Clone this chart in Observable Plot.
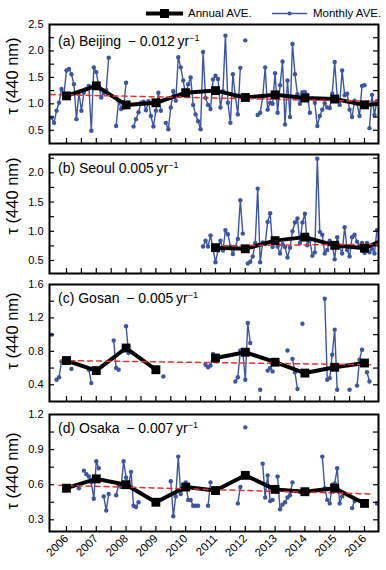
<!DOCTYPE html>
<html><head><meta charset="utf-8">
<script src="https://cdn.jsdelivr.net/npm/d3@7"></script>
<script src="https://cdn.jsdelivr.net/npm/@observablehq/plot@0.6"></script>
<style>
body{margin:0;background:#fff;}
#wrap{position:relative;width:386px;height:570px;font-family:"Liberation Sans",Arial,sans-serif;color:#000;overflow:hidden;}
.panel{position:absolute;left:0;}
.lab{position:absolute;left:58px;font-size:14px;white-space:nowrap;line-height:1;}
.lab sup{font-size:9px;vertical-align:5px;line-height:0;}
.ylab{position:absolute;left:12px;font-size:16.5px;white-space:nowrap;transform:translate(-50%,-50%) rotate(-90deg);line-height:1;}
.leg{position:absolute;font-size:11.5px;white-space:nowrap;line-height:1;}
</style></head><body><div id="wrap"></div>
<script>
// ---------- data ----------
const monthStart = 2005.5; // first monthly slot = Jul 2005, one slot per month
const beijingMonthly = [
  /*2005*/ 0.74, 0.64, 0.87, 1.02, 1.28, 1.19,
  /*2006*/ 1.63, 1.66, 1.56, 1.37, 0.71, 1.21, 0.87, 1.21, 1.28, 1.34, 0.49, 1.69,
  /*2007*/ 1.60, 1.34, 1.12, 1.21, 1.26, 1.87, null, null, 0.58, 1.06, 0.90, 0.93,
  /*2008*/ 1.40, null, null, 0.57, 0.71, 0.84, 1.02, 1.04, 0.88, 1.05, 0.77, 0.57,
  /*2009*/ 0.87, 1.21, 0.87, null, 0.64, 0.52, 0.93, 1.24, 1.06, 1.88, 1.69, 1.44,
  /*2010*/ 1.15, 1.37, 1.50, 0.98, 0.80, 0.67, 0.52, 1.98, 1.11, 0.98, 0.90, 1.46,
  /*2011*/ 1.53, 1.47, 0.93, 1.24, 2.29, 1.02, 0.64, 1.56, 1.14, 0.80, 1.68, null,
  /*2012*/ 2.20, null, null, null, null, 0.79, 0.83, 1.12, 1.69, 0.89, 1.02, 1.00,
  /*2013*/ 1.58, 0.83, 1.35, 1.80, 0.61, 1.44, 0.75, 2.13, 1.56, 1.18, 1.00, 1.22,
  /*2014*/ 1.22, 1.17, 0.83, null, 1.02, 0.58, 0.77, 0.89, 1.01, 0.93, 0.92, 1.19,
  /*2015*/ 1.79, 1.14, 0.98, 1.63, 1.16, 1.19, 0.89, 0.75, 1.06, 1.00, 0.77, 1.34,
  /*2016*/ 1.35, null, 0.54, 1.17, 0.79, 1.05
];
const seoulMonthly = [
  /*2005*/ null, null, null, null, null, null,
  /*2006*/ null, null, null, null, null, null, null, null, null, null, null, null,
  /*2007*/ null, null, null, null, null, null, null, null, null, null, null, null,
  /*2008*/ null, null, null, null, null, null, null, null, null, null, null, null,
  /*2009*/ null, null, null, null, null, null, null, null, null, null, null, null,
  /*2010*/ null, null, null, null, null, null, null, 0.74, 0.84, 0.74, 0.93, 0.70,
  /*2011*/ 0.47, 0.67, 0.84, 0.67, 1.02, 0.95, 0.74, 0.61, 0.73, 0.87, 1.53, 0.96,
  /*2012*/ null, 0.45, 0.48, 0.57, 0.80, 1.73, 0.47, 0.81, 0.78, 1.16, 1.31, 0.73,
  /*2013*/ 0.84, 0.74, 0.62, 0.78, 0.73, 0.55, 0.72, 1.00, 1.15, 1.22, 0.80, 1.15,
  /*2014*/ 1.30, 0.76, 0.85, 0.58, 0.64, 2.24, 0.99, 0.94, 0.62, 0.68, 0.84, 0.78,
  /*2015*/ 0.52, 0.90, 0.72, 0.62, 1.07, 0.68, 0.57, 0.90, 0.94, 0.82, 0.75, 0.80,
  /*2016*/ 0.63, 0.80, 0.64, 0.70, 0.62, 1.02
];
const gosanMonthly = [
  /*2005*/ 1.00, null, 0.46, 0.49, 0.68, 0.69,
  /*2006*/ null, null, 0.59, null, null, null, null, null, null, 0.58, 0.42, null,
  /*2007*/ null, null, null, null, null, null, null, 0.93, 0.60, 0.58, null, null,
  /*2008*/ 1.10, 0.78, null, null, null, null, null, null, null, null, null, null,
  /*2009*/ null, null, null, 0.50, null, null, null, null, null, null, null, null,
  /*2010*/ null, null, null, null, null, null, null, null, 0.64, 0.61, 0.63, 0.77,
  /*2011*/ null, null, null, null, null, null, null, null, 0.44, 0.49, 0.81, 0.80,
  /*2012*/ 0.46, 1.14, 0.90, null, null, null, 0.34, null, null, 0.57, 0.60, 0.56,
  /*2013*/ null, null, null, null, null, 0.81, null, 0.71, 0.55, 0.35, null, 1.13,
  /*2014*/ null, null, null, null, null, null, null, null, 1.43, 0.46, 0.48, 0.76,
  /*2015*/ 1.06, 0.34, null, null, null, null, 0.34, null, null, 0.39, 0.70, 0.82,
  /*2016*/ null, 0.55, 0.44, null, null, null
];
const osakaMonthly = [
  /*2005*/ null, null, null, null, null, null,
  /*2006*/ null, null, null, null, null, 0.57, null, 0.72, 0.69, 0.67, 0.62, 0.48,
  /*2007*/ 0.80, 0.74, null, 0.50, 0.38, 0.52, null, null, 0.51, 0.60, 0.58, 0.80,
  /*2008*/ 0.66, 0.60, 0.71, 0.42, 0.41, 0.45, null, null, null, null, null, null,
  /*2009*/ null, null, null, null, null, null, 0.63, 0.33, 0.50, 0.84, 0.52, 0.57,
  /*2010*/ 0.62, 0.47, 0.47, 0.42, 0.42, 0.42, null, null, null, 0.42, 0.62, null,
  /*2011*/ null, null, null, null, null, null, null, null, null, 0.44, 0.58, null,
  /*2012*/ 1.09, null, null, null, null, null, null, 0.78, 0.49, 0.68, 0.46, 0.47,
  /*2013*/ null, 0.67, 0.39, 0.43, 0.45, 0.49, 0.51, 0.62, null, null, 0.54, 0.53,
  /*2014*/ null, null, null, null, null, null, null, 0.84, 0.57, 0.47, 0.44, 0.60,
  /*2015*/ 0.61, 0.74, 0.44, 0.50, null, null, null, 0.40, 0.46, null, null, null,
  /*2016*/ null, null, null, null, null, 0.44
];
const annualYears = [2006, 2007, 2008, 2009, 2010, 2011, 2012, 2013, 2014, 2015, 2016, 2017];
const beijingAnnual = [1.15, 1.34, 0.98, 1.02, 1.21, 1.25, 1.12, 1.17, 1.11, 1.09, 0.98, 1.02];
const seoulAnnual   = [null, null, null, null, null, 0.72, 0.70, 0.84, 0.90, 0.76, 0.71, 0.94];
const gosanAnnual   = [0.69, 0.57, 0.84, 0.58, null, 0.72, 0.79, 0.67, 0.54, 0.61, 0.66, null];
const osakaAnnual   = [0.57, 0.65, 0.60, 0.45, 0.58, 0.55, 0.68, 0.56, 0.54, 0.57, 0.44, null];
// linear trends: [start year, end year] and [start value, end value]
const beijingTrendX = [2005.45, 2016.45], beijingTrend = [1.175, 1.045];
const seoulTrendX   = [2010.95, 2016.45], seoulTrend   = [0.75, 0.78];
const gosanTrendX   = [2005.8, 2016.2],  gosanTrend   = [0.69, 0.64];
const osakaTrendX   = [2005.75, 2016.3], osakaTrend   = [0.595, 0.52];
const xYearTicks = [2006, 2007, 2008, 2009, 2010, 2011, 2012, 2013, 2014, 2015, 2016];
const xMinorTicks = [2006, 2006.5, 2007, 2007.5, 2008, 2008.5, 2009, 2009.5, 2010, 2010.5, 2011, 2011.5, 2012, 2012.5, 2013, 2013.5, 2014, 2014.5, 2015, 2015.5, 2016];
const beijingYTicks = [0.5, 1.0, 1.5, 2.0, 2.5];
const beijingYMinor = [0.5, 0.75, 1.0, 1.25, 1.5, 1.75, 2.0, 2.25];
const seoulYTicks = [0.5, 1.0, 1.5, 2.0];
const seoulYMinor = [0.5, 0.75, 1.0, 1.25, 1.5, 1.75, 2.0, 2.25];
const gosanYTicks = [0.4, 0.8, 1.2, 1.6];
const gosanYMinor = [0.4, 0.6, 0.8, 1.0, 1.2, 1.4];
const osakaYTicks = [0.3, 0.6, 0.9, 1.2];
const osakaYMinor = [0.3, 0.45, 0.6, 0.75, 0.9, 1.05];
const panelLabels = [
  ["(a) Beijing", "\u2009\u2212 0.012"],
  ["(b) Seoul", "0.005"],
  ["(c) Gosan", "\u2009\u2212 0.005"],
  ["(d) Osaka", "\u2009\u2212 0.007"]
];

// ---------- drawing ----------
const BLUE = "#3b55a3", RED = "#e3332b";
const W = 386, ML = 49, MR = 8;
const FW = W - ML - MR;
const wrap = document.getElementById("wrap");

function panel(cfg) {
  const mData = cfg.monthly.map((v, i) => ({x: monthStart + i / 12, y: v}));
  const aData = annualYears.map((yr, i) => ({x: yr, y: cfg.annual[i]}));
  const tData = cfg.trendX.map((x, i) => ({x, y: cfg.trend[i]}));
  const mb = cfg.last ? 40 : 5;
  const svg = Plot.plot({
    width: W, height: cfg.fh + 5 + mb,
    marginLeft: ML, marginRight: MR, marginTop: 5, marginBottom: mb,
    x: {domain: [2005.43, 2016.47], axis: null},
    y: {domain: cfg.yDomain, axis: null},
    style: {fontFamily: '"Liberation Sans", Arial, sans-serif', fontSize: "11px", color: "#000", background: "transparent", overflow: "visible"},
    marks: [
      Plot.line(mData, {x: "x", y: "y", stroke: BLUE, strokeWidth: 1.4, clip: true}),
      Plot.dot(mData, {x: "x", y: "y", r: 2.2, fill: BLUE, stroke: "none", clip: true}),
      Plot.line(aData, {x: "x", y: "y", stroke: "#000", strokeWidth: 4, clip: true}),
      Plot.line(tData, {x: "x", y: "y", stroke: RED, strokeWidth: 1.5, strokeDasharray: "5,4", clip: true}),
      Plot.dot(aData, {x: "x", y: "y", symbol: "square", r: 5, fill: "#000", stroke: "none", clip: true}),
      Plot.tickX(xMinorTicks, {x: d => d, insetTop: cfg.fh - 5, stroke: "#000", strokeWidth: 1.2}),
      Plot.tickY(cfg.yMinor, {y: d => d, insetRight: FW - 5, stroke: "#000", strokeWidth: 1.2}),
      Plot.tickY(cfg.yMinor, {y: d => d, insetLeft: FW - 5, stroke: "#000", strokeWidth: 1.2}),
      Plot.axisY(cfg.yTicks, {tickSize: 0, tickPadding: 6, tickFormat: d3.format(".1f"), label: null}),
      cfg.last ? Plot.axisX(xYearTicks, {tickSize: 0, tickPadding: 5, tickRotate: -45, tickFormat: d => String(d), label: null, fontSize: 11.5}) : null,
      Plot.frame({stroke: "#000", strokeWidth: 2})
    ]
  });
  svg.classList.add("panel");
  svg.style.top = (cfg.top - 5) + "px";
  wrap.appendChild(svg);

  const lab = document.createElement("div");
  lab.className = "lab";
  lab.style.top = (cfg.top + cfg.labDy) + "px";
  lab.innerHTML = `${cfg.label[0]} ${cfg.label[1]}\u2009yr<sup>\u22121</sup>`;
  wrap.appendChild(lab);

  const yl = document.createElement("div");
  yl.className = "ylab";
  yl.style.top = cfg.ylabY + "px";
  yl.textContent = "\u03c4 (440 nm)";
  wrap.appendChild(yl);
}

panel({monthly: beijingMonthly, annual: beijingAnnual, trendX: beijingTrendX, trend: beijingTrend,
  yDomain: [0.25, 2.5], yTicks: beijingYTicks, yMinor: beijingYMinor, top: 24, fh: 119, labDy: 10, ylabY: 76, label: panelLabels[0]});
panel({monthly: seoulMonthly, annual: seoulAnnual, trendX: seoulTrendX, trend: seoulTrend,
  yDomain: [0.278, 2.313], yTicks: seoulYTicks, yMinor: seoulYMinor, top: 154, fh: 119, labDy: 7, ylabY: 196, label: panelLabels[1]});
panel({monthly: gosanMonthly, annual: gosanAnnual, trendX: gosanTrendX, trend: gosanTrend,
  yDomain: [0.2, 1.6], yTicks: gosanYTicks, yMinor: gosanYMinor, top: 284, fh: 117, labDy: 7, ylabY: 331, label: panelLabels[2]});
panel({monthly: osakaMonthly, annual: osakaAnnual, trendX: osakaTrendX, trend: osakaTrend,
  yDomain: [0.2, 1.2], yTicks: osakaYTicks, yMinor: osakaYMinor, top: 414, fh: 117, labDy: 7, ylabY: 471, label: panelLabels[3], last: true});

// legend
const legSvg = d3.select(wrap).append("svg").attr("width", W).attr("height", 24)
  .style("position", "absolute").style("left", 0).style("top", 0);
legSvg.append("line").attr("x1", 146).attr("x2", 183).attr("y1", 13.5).attr("y2", 13.5).attr("stroke", "#000").attr("stroke-width", 4);
legSvg.append("rect").attr("x", 160).attr("y", 9).attr("width", 9).attr("height", 9).attr("fill", "#000");
legSvg.append("line").attr("x1", 272).attr("x2", 307).attr("y1", 13.5).attr("y2", 13.5).attr("stroke", BLUE).attr("stroke-width", 1.5);
legSvg.append("circle").attr("cx", 289.5).attr("cy", 13.5).attr("r", 2).attr("fill", BLUE);
const l1 = document.createElement("div"); l1.className = "leg"; l1.style.left = "188px"; l1.style.top = "8px"; l1.textContent = "Annual AVE."; wrap.appendChild(l1);
const l2 = document.createElement("div"); l2.className = "leg"; l2.style.left = "313px"; l2.style.top = "8px"; l2.textContent = "Monthly AVE."; wrap.appendChild(l2);
</script>
</body></html>
